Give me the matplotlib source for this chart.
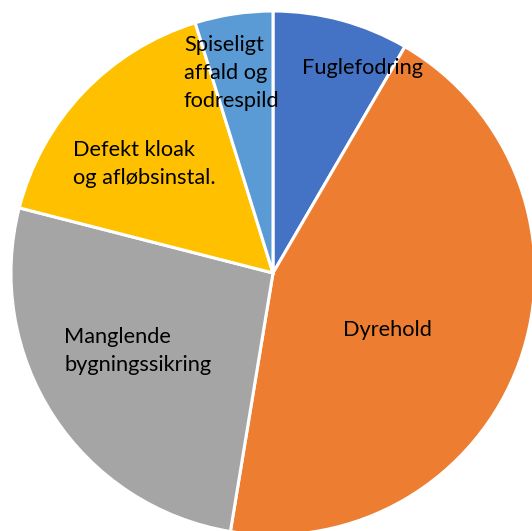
import matplotlib
matplotlib.use("Agg")
import matplotlib.pyplot as plt

categories = ["Fuglefodring", "Dyrehold", "Manglende\nbygningssikring",
              "Defekt kloak\nog afløbsinstal.", "Spiseligt\naffald og\nfodrespild"]
values = [8.4, 44.2, 26.4, 16.2, 4.8]
colors = ["#4472C4", "#ED7D31", "#A5A5A5", "#FFC000", "#5B9BD5"]

W, H = 532, 531
fig = plt.figure(figsize=(W / 100, H / 100), dpi=100)
cx, cy, R = 273, 273, 262
ax = fig.add_axes([(cx - R) / W, (H - cy - R) / H, 2 * R / W, 2 * R / H])
ax.pie(values, colors=colors, startangle=90, counterclock=False, radius=1,
       wedgeprops=dict(edgecolor="white", linewidth=2.2))
ax.set_xlim(-1, 1)
ax.set_ylim(-1, 1)
ax.set_aspect("equal")
ax.axis("off")


def px(x, y):
    return (x - cx) / R, (cy - y) / R


font = dict(family=["Lato", "DejaVu Sans"], fontsize=15.7, color="#000000")
ls = 1.5
# label placements (pixel coords of reference)
placements = [
    (px(362, 68), "center", "center"),
    (px(387, 330), "center", "center"),
    (px(64, 351), "left", "center"),
    (px(73, 164), "left", "center"),
    (px(184, 73), "left", "center"),
]
for lab, ((x, y), ha, va) in zip(categories, placements):
    ax.text(x, y, lab, ha=ha, va=va, linespacing=ls, **font)

fig.savefig("out.png", dpi=100)
